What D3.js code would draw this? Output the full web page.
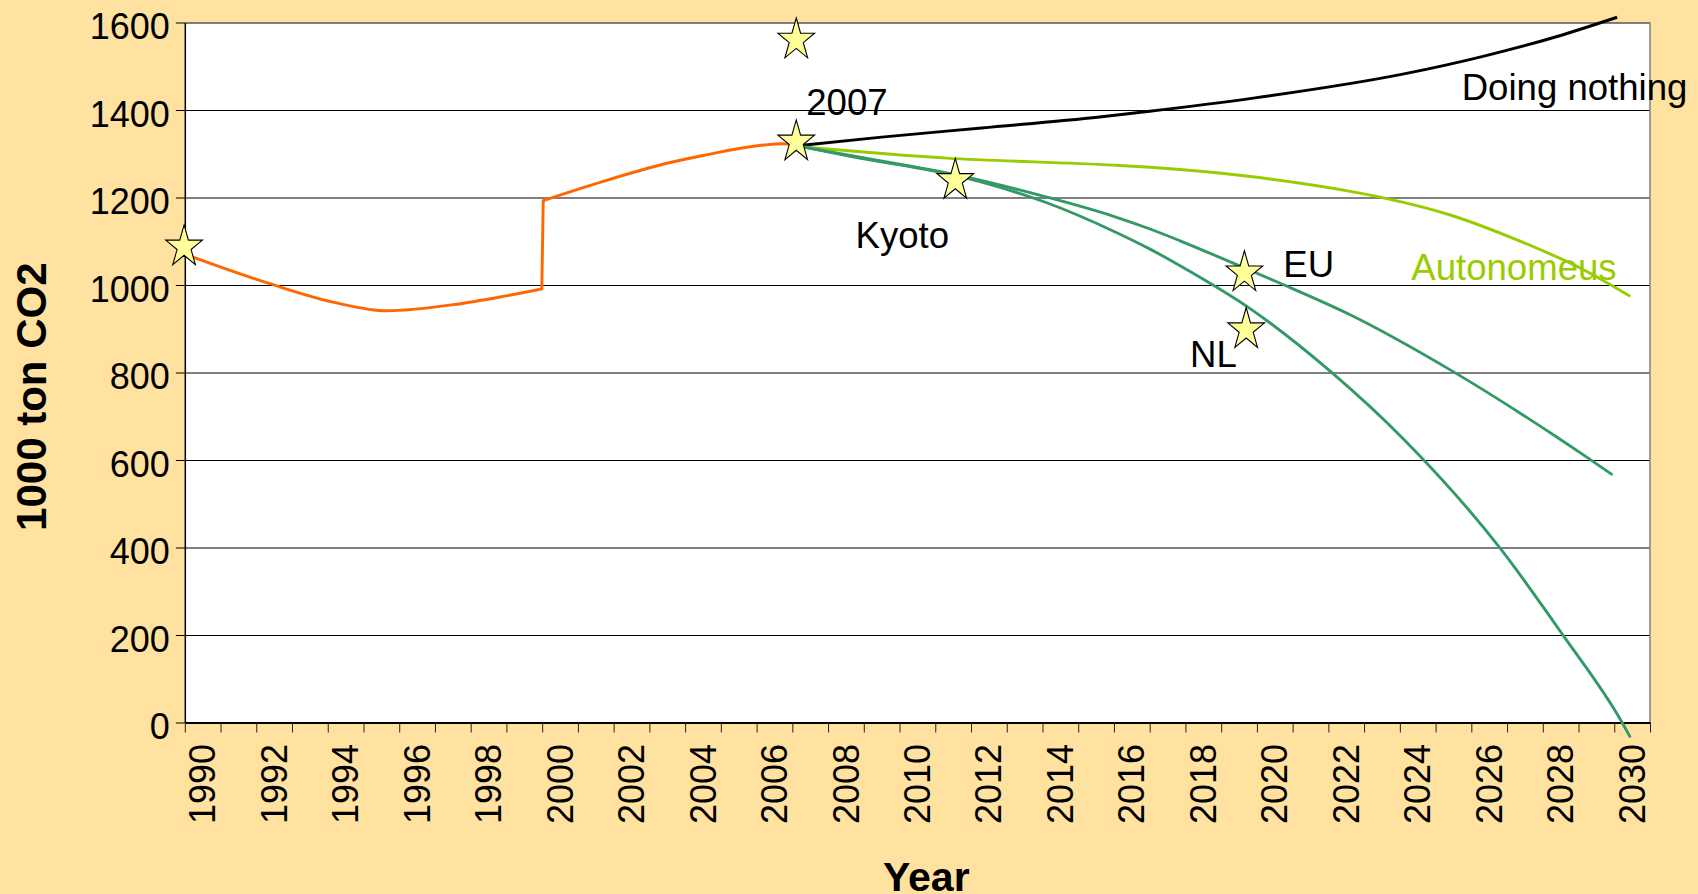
<!DOCTYPE html>
<html>
<head>
<meta charset="utf-8">
<script src="https://cdn.jsdelivr.net/npm/d3@7"></script>
<style>
	html, body { margin: 0; padding: 0; background: #ffe1a0; }
	svg { display: block; }
	text { font-family: Arial, "Liberation Sans", sans-serif; }
</style>
</head>
<body>
<div id="app"></div>
<script>
// CO2 scenarios 1990 - 2030.  Category axis like the old Excel chart: labels on the
// category centres, tick marks on the boundaries.

var years = [1990, 1991, 1992, 1993, 1994, 1995, 1996, 1997, 1998, 1999,
	2000, 2001, 2002, 2003, 2004, 2005, 2006, 2007, 2008, 2009,
	2010, 2011, 2012, 2013, 2014, 2015, 2016, 2017, 2018, 2019,
	2020, 2021, 2022, 2023, 2024, 2025, 2026, 2027, 2028, 2029, 2030];
var yearLabels = [1990, 1992, 1994, 1996, 1998, 2000, 2002, 2004, 2006, 2008,
	2010, 2012, 2014, 2016, 2018, 2020, 2022, 2024, 2026, 2028, 2030];
var yTicks = [0, 200, 400, 600, 800, 1000, 1200, 1400, 1600];

// [year, 1000 ton CO2]
var historyBefore = [[1989.69, 1065], [1991.88, 1003], [1993.75, 959], [1995.15, 941],
	[1997.01, 955], [1998.41, 974], [1999.49, 991]];
var historyAfter = [[1999.53, 1193], [2001.21, 1237], [2003.08, 1280], [2004.0, 1296],
	[2005.72, 1320], [2006.2, 1323], [2006.55, 1321]];
var doingNothing = [[2006.72, 1319], [2009.0, 1338], [2011.8, 1359], [2015.1, 1384],
	[2016.5, 1397], [2019.4, 1427], [2023.65, 1483], [2025.8, 1522], [2027.9, 1568], [2029.58, 1612]];
var autonomeus = [[2006.72, 1316], [2010.82, 1290], [2015.49, 1274], [2016.51, 1269],
	[2019.31, 1248], [2022.11, 1214], [2023.04, 1199], [2024.91, 1160], [2026.78, 1103],
	[2028.64, 1035], [2029.95, 974]];
var euTarget = [[2006.72, 1317], [2008.12, 1296], [2011.29, 1248], [2013.62, 1201],
	[2015.49, 1157], [2016.51, 1128], [2017.35, 1101], [2019.12, 1040], [2020.15, 1004],
	[2022.11, 932], [2024.91, 806], [2027.9, 652], [2028.74, 606], [2029.45, 566]];
var nlTarget = [[2006.72, 1317], [2008.12, 1294], [2011.29, 1246], [2013.62, 1188],
	[2015.49, 1123], [2016.51, 1082], [2017.35, 1044], [2019.31, 946], [2021.55, 803],
	[2023.6, 648], [2026.31, 398], [2028.08, 198], [2029.72, 0], [2029.95, -34]];

var stars = [[1989.48, 1087], [2006.61, 1560], [2006.61, 1327], [2011.06, 1239],
	[2019.15, 1028], [2019.2, 898]];

var labelTexts = ["2007", "Kyoto", "EU", "NL", "Autonomeus", "Doing nothing"];
var labelAt = [[2006.89, 1388.6], [2008.27, 1083.9], [2020.24, 1017.6], [2017.63, 813.3],
	[2023.82, 1011.4], [2025.23, 1422.9]];

var width = 1698, height = 894;
var plotLeft = 184.8, plotRight = 1650, plotTop = 22.5, plotBottom = 722.5;	// window.top is taken
var fontSize = 36;
var fontFamily = "Arial, 'Liberation Sans', sans-serif";

var color = {
	bg: "#ffe1a0",
	history: "#ff6600",
	nothing: "#000000",
	auto: "#99cc00",
	target: "#339966",
	star: "#ffff99"
};

var vis = d3.select("#app")
	.append("svg")
	.attr("width", width)
	.attr("height", height);

vis.append("rect")
	.attr("width", width).attr("height", height)
	.attr("fill", color.bg);

var x = d3.scaleLinear().domain([years[0] - 0.5, years[years.length - 1] + 0.5]).range([plotLeft, plotRight]);
var xBand = d3.scaleBand().domain(years).range([plotLeft, plotRight]);
var y = d3.scaleLinear().domain([0, 1600]).range([plotBottom, plotTop]);

// Plot area
vis.append("rect")
	.attr("x", plotLeft).attr("y", plotTop)
	.attr("width", plotRight - plotLeft).attr("height", plotBottom - plotTop)
	.attr("fill", "white");

// Gridlines
var grid = vis.append("g")
	.attr("transform", "translate(" + plotLeft + ",0)")
	.call(d3.axisLeft(y).tickValues(yTicks.slice(1)).tickSize(-(plotRight - plotLeft)).tickFormat(""));
grid.select(".domain").remove();
grid.selectAll("line").attr("stroke", "#000").attr("stroke-width", 1);

vis.append("line")
	.attr("x1", plotRight).attr("x2", plotRight)
	.attr("y1", plotTop).attr("y2", plotBottom)
	.attr("stroke", "#808080").attr("stroke-width", 1.5);

// Y axis
var yAxis = vis.append("g")
	.attr("transform", "translate(" + plotLeft + ",0)")
	.call(d3.axisLeft(y).tickValues(yTicks).tickFormat(d3.format("d"))
		.tickSize(9).tickSizeOuter(0).tickPadding(6));
yAxis.select(".domain").attr("stroke", "#000").attr("stroke-width", 1.5);
yAxis.selectAll("line").attr("stroke", "#000");
yAxis.selectAll("text")
	.attr("dy", "0.45em")
	.attr("fill", "#000")
	.style("font-size", fontSize + "px")
	.style("font-family", fontFamily);

// X axis: tick marks between categories
var boundaries = years.map(function (d) {return d - 0.5;}).concat([years[years.length - 1] + 0.5]);
var xTicks = vis.append("g")
	.attr("transform", "translate(0," + plotBottom + ")")
	.call(d3.axisBottom(x).tickValues(boundaries).tickSize(10).tickSizeOuter(0).tickFormat(""));
xTicks.select(".domain").attr("stroke", "#000").attr("stroke-width", 2);
xTicks.selectAll("line").attr("stroke", "#222");

// X axis labels, every second year, rotated
var xLabels = vis.append("g")
	.attr("transform", "translate(0," + plotBottom + ")")
	.call(d3.axisBottom(xBand).tickValues(yearLabels).tickSize(0).tickPadding(0));
xLabels.select(".domain").remove();
xLabels.selectAll("text")
	.attr("x", -21.5).attr("y", 0)
	.attr("dy", "0.35em")
	.attr("transform", "rotate(-90)")
	.attr("fill", "#000")
	.style("text-anchor", "end")
	.style("font-size", fontSize + "px")
	.style("font-family", fontFamily);

// Axis titles
vis.append("text")
	.attr("transform", "translate(46,396.7) rotate(-90)")
	.style("text-anchor", "middle")
	.style("font", "bold 42px " + fontFamily)
	.attr("fill", "#000")
	.text("1000 ton CO2");

vis.append("text")
	.attr("x", 926.3).attr("y", 890.5)
	.style("text-anchor", "middle")
	.style("font", "bold 41px " + fontFamily)
	.attr("fill", "#000")
	.text("Year");

// Lines
var line = d3.line()
	.x(function (d) {return x(d[0]);})
	.y(function (d) {return y(d[1]);})
	.curve(d3.curveMonotoneX);

function drawLine (path, stroke)
{
	vis.append("path")
		.attr("d", path)
		.attr("fill", "none")
		.attr("stroke", stroke)
		.attr("stroke-width", 2.9);
}

// The history jumps up in 1999: join the two pieces with a straight vertical.
drawLine(line(historyBefore) + line(historyAfter).replace(/^M/, "L"), color.history);
drawLine(line(doingNothing), color.nothing);
drawLine(line(autonomeus), color.auto);
drawLine(line(euTarget), color.target);
drawLine(line(nlTarget), color.target);

// Stars
function starPath (rx, ry, inner)
{
	var pts = [];
	for (var i = 0; i < 10; i++)
	{
		var a = -Math.PI / 2 + i * Math.PI / 5;
		var r = (i % 2) ? inner : 1;
		pts.push([rx * r * Math.cos(a), ry * r * Math.sin(a)]);
	}
	return "M" + pts.map(function (p) {return p[0].toFixed(2) + "," + p[1].toFixed(2);}).join("L") + "Z";
}

vis.append("g").selectAll("path")
	.data(stars)
	.join("path")
	.attr("transform", function (d) {return "translate(" + x(d[0]) + "," + y(d[1]) + ")";})
	.attr("d", starPath(19.3, 22, 0.382))
	.attr("fill", color.star)
	.attr("stroke", "#000")
	.attr("stroke-width", 1.1);

// Annotations
vis.append("g").selectAll("text")
	.data(labelTexts)
	.join("text")
	.attr("x", function (d, i) {return x(labelAt[i][0]);})
	.attr("y", function (d, i) {return y(labelAt[i][1]);})
	.attr("fill", function (d) {return d == "Autonomeus" ? color.auto : "#000";})
	.style("font-size", "36.6px")
	.style("font-family", fontFamily)
	.text(function (d) {return d;});
</script>
</body>
</html>
